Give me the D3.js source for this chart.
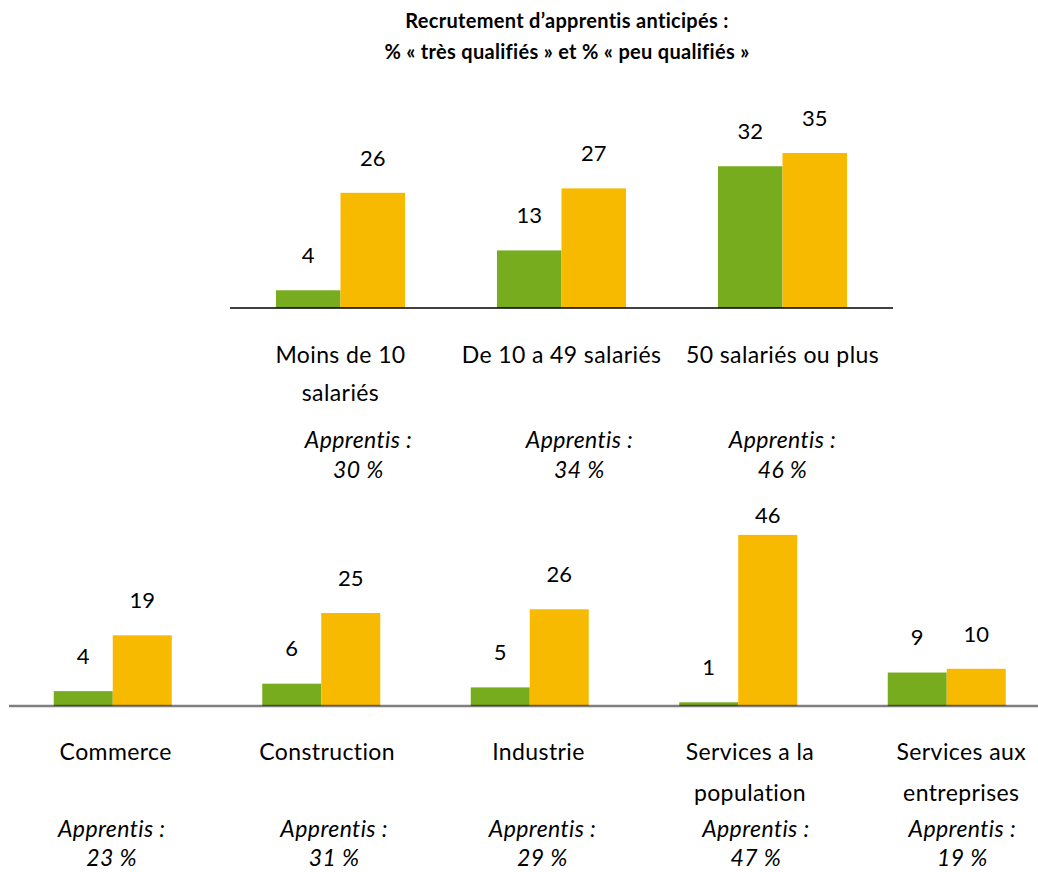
<!DOCTYPE html>
<html>
<head>
<meta charset="utf-8">
<script src="https://cdn.jsdelivr.net/npm/d3@7"></script>
<style>
  body { margin: 0; background: #fff; }
  svg { display: block; font-family: "Lato", "Open Sans", sans-serif; }
  .val { font-size: 22px; fill: #000; }
  .cat { font-size: 23px; fill: #000; letter-spacing: 0.4px; }
  .app { font-size: 23px; fill: #000; font-style: italic; letter-spacing: 0.4px; }
  .title { font-size: 20px; font-weight: bold; fill: #000; letter-spacing: 0.3px; }
</style>
</head>
<body>
<svg width="1038" height="872"></svg>
<script>
// top chart: by company size
var sizeCats = [["Moins de 10", "salariés"], ["De 10 a 49 salariés"], ["50 salariés ou plus"]];
var sizeTres = [4, 13, 32];
var sizePeu = [26, 27, 35];
var sizeApprentis = [30, 34, 46];

// bottom chart: by sector
var sectorCats = [["Commerce"], ["Construction"], ["Industrie"], ["Services a la", "population"], ["Services aux", "entreprises"]];
var sectorTres = [4, 6, 5, 1, 9];
var sectorPeu = [19, 25, 26, 46, 10];
var sectorApprentis = [23, 31, 29, 47, 19];

var seriesKeys = ["tres", "peu"];
var colors = { tres: "#78ac1f", peu: "#f8ba00" };

var svg = d3.select("svg");

svg.append("text").attr("class", "title")
    .attr("x", 567).attr("y", 28).attr("text-anchor", "middle")
    .text("Recrutement d\u2019apprentis anticipés :");
svg.append("text").attr("class", "title")
    .attr("x", 567).attr("y", 59).attr("text-anchor", "middle")
    .text("% « très qualifiés » et % « peu qualifiés »");

function drawChart(opt) {
    var n = opt.cats.length;
    var data = d3.range(n).map(function(i) {
        return { i: i, tres: opt.tres[i], peu: opt.peu[i] };
    });

    var x = d3.scaleBand().domain(d3.range(n)).range(opt.xRange)
        .paddingInner(opt.pad).paddingOuter(opt.pad / 2);
    var xs = d3.scaleBand().domain(seriesKeys).range([0, x.bandwidth()]);
    var y = d3.scaleLinear().domain(opt.yDomain).range(opt.yRange);
    var xl = d3.scaleBand().domain(d3.range(n)).range(opt.labelRange);

    var g = svg.append("g");

    var groups = g.selectAll(".grp").data(data).enter().append("g")
        .attr("transform", function(d) { return "translate(" + x(d.i) + ",0)"; });

    groups.selectAll("rect").data(function(d) {
        return seriesKeys.map(function(k) { return { k: k, v: d[k] }; });
    }).enter().append("rect")
        .attr("x", function(d) { return xs(d.k); })
        .attr("y", function(d) { return y(d.v); })
        .attr("width", xs.bandwidth())
        .attr("height", function(d) { return y(0) - y(d.v); })
        .attr("fill", function(d) { return colors[d.k]; });

    groups.selectAll(".val").data(function(d) {
        return seriesKeys.map(function(k) { return { k: k, v: d[k] }; });
    }).enter().append("text")
        .attr("class", "val")
        .attr("x", function(d) { return xs(d.k) + xs.bandwidth() / 2; })
        .attr("y", function(d) { return Math.max(y(d.v) - 35, opt.labelTop); })
        .attr("dy", "0.35em")
        .attr("text-anchor", "middle")
        .text(function(d) { return d.v; });

    // baseline
    g.append("line")
        .attr("x1", opt.axis[0]).attr("x2", opt.axis[1])
        .attr("y1", y(0)).attr("y2", y(0))
        .attr("stroke", opt.axisColor)
        .attr("stroke-opacity", opt.axisOpacity)
        .attr("stroke-width", opt.axisWidth);

    // category labels
    var cat = g.selectAll(".cat").data(opt.cats).enter().append("text")
        .attr("class", "cat")
        .attr("text-anchor", "middle")
        .attr("y", opt.catY);
    cat.selectAll("tspan").data(function(d, i) {
        return d.map(function(t) { return { t: t, i: i }; });
    }).enter().append("tspan")
        .attr("x", function(d) { return xl(d.i) + xl.bandwidth() / 2; })
        .attr("dy", function(d, j) { return j === 0 ? "0.35em" : opt.lineH; })
        .text(function(d) { return d.t; });

    // apprentis share
    var app = g.selectAll(".app").data(opt.apprentis).enter().append("text")
        .attr("class", "app")
        .attr("text-anchor", "middle")
        .attr("y", opt.appY);
    app.append("tspan")
        .attr("x", function(d, i) { return xl(i) + xl.bandwidth() / 2 + opt.appShift[i]; })
        .attr("dy", "0.35em")
        .text("Apprentis :");
    app.append("tspan")
        .attr("x", function(d, i) { return xl(i) + xl.bandwidth() / 2 + opt.appShift[i]; })
        .attr("dy", opt.appLineH)
        .text(function(d) { return d + " %"; });
}

drawChart({
    cats: sizeCats, tres: sizeTres, peu: sizePeu, apprentis: sizeApprentis,
    xRange: [230, 893], pad: 0.416,
    yDomain: [0, 40], yRange: [308, 130.8],
    labelTop: 0,
    axis: [230, 893], axisColor: "#000", axisOpacity: 1, axisWidth: 1.5,
    labelRange: [230, 893],
    catY: 355, lineH: 38,
    appY: 440, appLineH: 30, appShift: [18, 18, 0]
});

drawChart({
    cats: sectorCats, tres: sectorTres, peu: sectorPeu, apprentis: sectorApprentis,
    xRange: [8.5, 1051], pad: 0.434,
    yDomain: [0, 50], yRange: [706, 520],
    labelTop: 515,
    axis: [9, 1038], axisColor: "#000", axisOpacity: 0.5, axisWidth: 2.5,
    labelRange: [10, 1067],
    catY: 752, lineH: 41,
    appY: 829, appLineH: 29, appShift: [-4, 7, 4, 6, 1]
});
</script>
</body>
</html>
